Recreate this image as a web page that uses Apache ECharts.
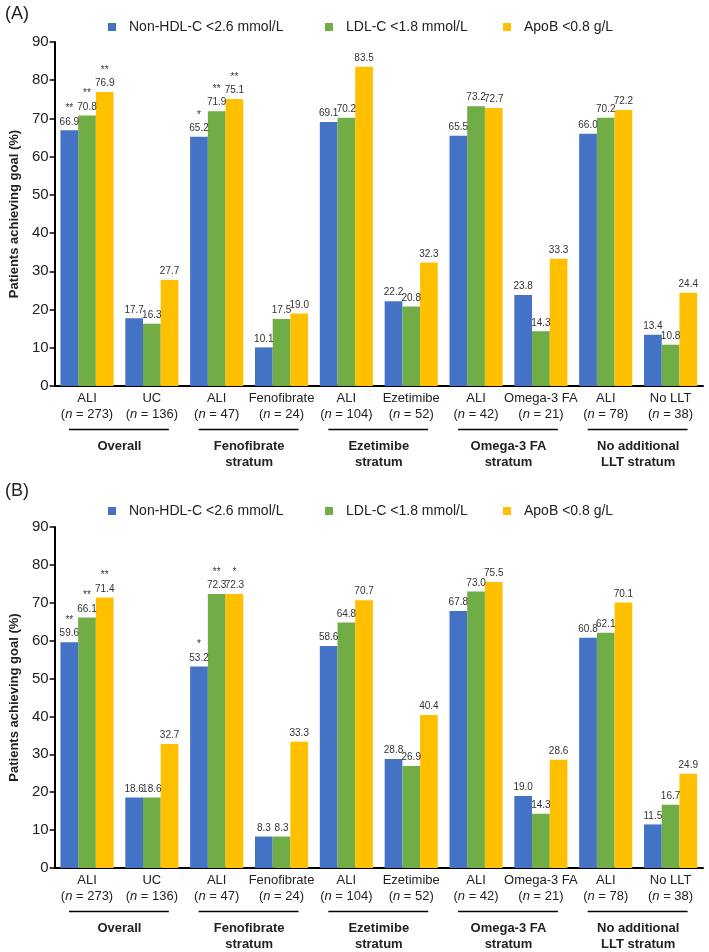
<!DOCTYPE html>
<html><head><meta charset="utf-8">
<script src="https://cdn.jsdelivr.net/npm/echarts@6/dist/echarts.min.js"></script>
<style>html,body{margin:0;padding:0;background:#fff}#c{width:709px;height:952px}</style>
</head><body><div id="c"></div>
<script>
const FONT = '"Liberation Sans", Arial, sans-serif';
const categoryNames = ['ALI','UC','ALI','Fenofibrate','ALI','Ezetimibe','ALI','Omega-3 FA','ALI','No LLT'];
const categoryN = ['273','136','47','24','104','52','42','21','78','38'];
const groupNames = ['Overall','Fenofibrate\nstratum','Ezetimibe\nstratum','Omega-3 FA\nstratum','No additional\nLLT stratum'];
const seriesNames = ['Non-HDL-C <2.6 mmol/L','LDL-C <1.8 mmol/L','ApoB <0.8 g/L'];
const seriesColors = ['#4472C4','#70AD47','#FFC000'];
const yTicks = [0,10,20,30,40,50,60,70,80,90];

// Panel A
const aNonHDL = [66.9,17.7,65.2,10.1,69.1,22.2,65.5,23.8,66.0,13.4];
const aLDL    = [70.8,16.3,71.9,17.5,70.2,20.8,73.2,14.3,70.2,10.8];
const aApoB   = [76.9,27.7,75.1,19.0,83.5,32.3,72.7,33.3,72.2,24.4];
const aStarsNonHDL = ['**','','*','','','','','','',''];
const aStarsLDL    = ['**','','**','','','','','','',''];
const aStarsApoB   = ['**','','**','','','','','','',''];
// Panel B
const bNonHDL = [59.6,18.6,53.2,8.3,58.6,28.8,67.8,19.0,60.8,11.5];
const bLDL    = [66.1,18.6,72.3,8.3,64.8,26.9,73.0,14.3,62.1,16.7];
const bApoB   = [71.4,32.7,72.3,33.3,70.7,40.4,75.5,28.6,70.1,24.9];
const bStarsNonHDL = ['**','','*','','','','','','',''];
const bStarsLDL    = ['**','','**','','','','','','',''];
const bStarsApoB   = ['**','','*','','','','','','',''];

const panels = [
  {label:'(A)', data:[aNonHDL,aLDL,aApoB], stars:[aStarsNonHDL,aStarsLDL,aStarsApoB], top:42, height:344, titleTop:0, legendTop:15},
  {label:'(B)', data:[bNonHDL,bLDL,bApoB], stars:[bStarsNonHDL,bStarsLDL,bStarsApoB], top:527, height:343, titleTop:477, legendTop:499}
];

const chart = echarts.init(document.getElementById('c'), null, {renderer:'canvas'});
const grids=[], xAxes=[], yAxes=[], series=[], legends=[], titles=[];
const legendLefts = [103, 320, 498];
const catLabels = categoryNames.map((c,i)=>c+'|'+categoryN[i]);

panels.forEach((p, pi) => {
  grids.push({left:53, width:650, top:p.top, height:p.height});
  titles.push({text:p.label, left:0, top:p.titleTop, textStyle:{fontFamily:FONT, fontSize:18, fontWeight:'normal', color:'#222'}});
  xAxes.push({
    type:'category', gridIndex:pi, data:catLabels,
    axisLine:{lineStyle:{color:'#000', width:2}}, axisTick:{show:false},
    axisLabel:{interval:0, margin:4, fontFamily:FONT, fontSize:13, color:'#222', lineHeight:16,
      formatter: v => { const [n, num] = v.split('|'); return '{a|'+n+'}\n{a|(}{i|n}{a| = '+num+')}'; },
      rich:{a:{fontFamily:FONT, fontSize:13, color:'#222', lineHeight:16}, i:{fontFamily:FONT, fontSize:13, fontStyle:'italic', color:'#222', lineHeight:16}}
    }
  });
  xAxes.push({
    type:'category', gridIndex:pi, data:groupNames, position:'bottom', offset:44,
    axisLine:{show:false}, axisTick:{show:false},
    axisLabel:{interval:0, margin:8, fontFamily:FONT, fontSize:13, fontWeight:'bold', color:'#222', lineHeight:16}
  });
  yAxes.push({
    type:'value', gridIndex:pi, min:0, max:90, interval:10,
    name:'Patients achieving goal (%)', nameLocation:'middle', nameGap:32, nameRotate:90,
    nameTextStyle:{fontFamily:FONT, fontSize:13, fontWeight:'bold', color:'#222'},
    axisLine:{show:true, lineStyle:{color:'#000', width:2}},
    axisTick:{show:true, length:5, lineStyle:{color:'#000', width:1.5}},
    splitLine:{show:false},
    axisLabel:{margin:6, fontFamily:FONT, fontSize:15, color:'#222',
      formatter: v => yTicks.indexOf(v) >= 0 ? String(v) : ''}
  });
  seriesNames.forEach((name, si) => {
    legends.push({
      data:[name], left:legendLefts[si], top:p.legendTop, icon:'rect', itemWidth:8, itemHeight:8,
      selectedMode:false,
      textStyle:{fontFamily:FONT, fontSize:14, color:'#222', padding:[0,0,0,8]}
    });
    const stars = p.stars[si];
    series.push({
      name, type:'bar', xAxisIndex:pi*2, yAxisIndex:pi, barWidth:17.7, barGap:'0%',
      itemStyle:{color:seriesColors[si]},
      data:p.data[si].map((v,i)=>({value:v})),
      label:{show:true, position:'top', distance:2,
        formatter: prm => (stars[prm.dataIndex] ? '{s|'+stars[prm.dataIndex]+'}\n' : '') + '{v|'+prm.value.toFixed(1)+'}',
        rich:{s:{fontFamily:FONT, fontSize:10, color:'#333', lineHeight:14}, v:{fontFamily:FONT, fontSize:10, color:'#333', lineHeight:13}}
      },
      animation:false
    });
  });
});

chart.setOption({
  animation:false, backgroundColor:'#fff',
  title:titles, grid:grids, xAxis:xAxes, yAxis:yAxes, legend:legends, series
});

// group underlines positioned through the category axis scale
const lines = [];
panels.forEach((p, pi) => {
  for (let g = 0; g < groupNames.length; g++) {
    const c1 = chart.convertToPixel({xAxisIndex:pi*2}, catLabels[g*2]);
    const c2 = chart.convertToPixel({xAxisIndex:pi*2}, catLabels[g*2+1]);
    const y = chart.convertToPixel({yAxisIndex:pi}, 0) + 43.5;
    lines.push({type:'line', shape:{x1:c1-18, y1:y, x2:c2+17, y2:y}, style:{stroke:'#000', lineWidth:1.5}});
  }
});
chart.setOption({graphic:lines});
</script></body></html>
